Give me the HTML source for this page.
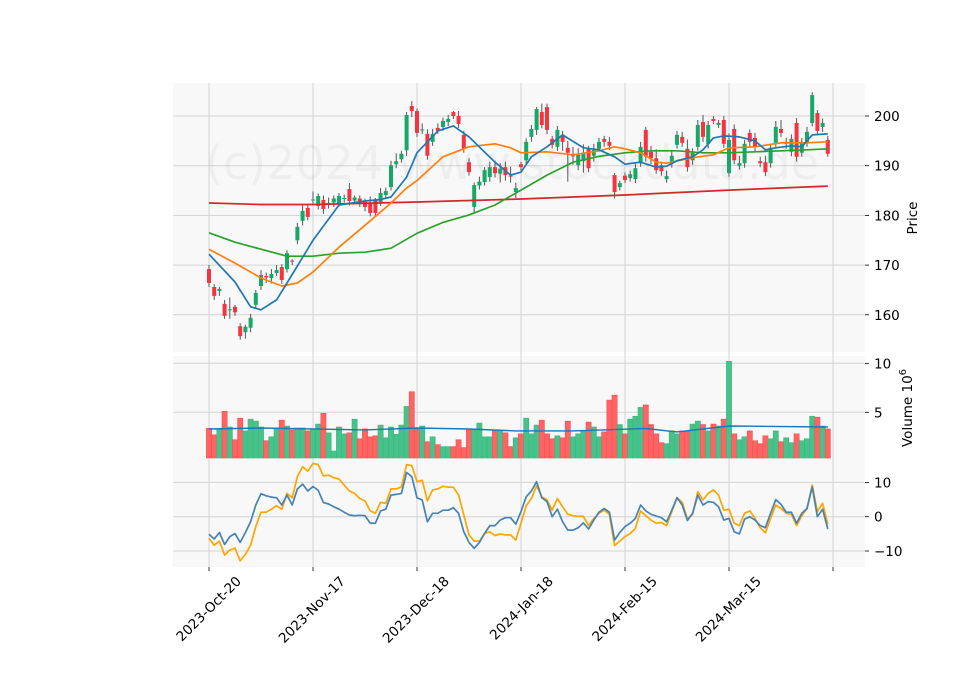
<!DOCTYPE html>
<html><head><meta charset="utf-8">
<style>
html,body{margin:0;padding:0;background:#fff;}
svg{display:block;font-family:"DejaVu Sans","Liberation Sans",sans-serif;}
</style></head>
<body>
<svg id="chart" width="960" height="690" viewBox="0 0 960 690" xmlns="http://www.w3.org/2000/svg">
  <rect x="173" y="83" width="692" height="269" fill="#f8f8f8"/>
  <rect x="173" y="356" width="692" height="102" fill="#f8f8f8"/>
  <rect x="173" y="458" width="692" height="109" fill="#f8f8f8"/>
  <g id="grid"></g>
  <text x="205" y="179" font-size="46" fill="#000" fill-opacity="0.04">(c)2024 www.stockdata.de</text>
  <g id="marks"></g>
  <g id="axes"></g>
  <text transform="translate(917,218) rotate(-90)" text-anchor="middle" font-size="13.5" fill="#000">Price</text>
  <text transform="translate(912,447) rotate(-90)" font-size="13.5" fill="#000">Volume  10<tspan dy="-6" font-size="10">6</tspan></text>
</svg>
<script>
const dates = ["2023-Oct-20","2023-Nov-17","2023-Dec-18","2024-Jan-18","2024-Feb-15","2024-Mar-15"];
const opens = [169.2,165.6,164.8,162.2,160.9,161.6,157.7,156.5,157.4,162.0,165.8,167.8,167.4,168.4,169.6,169.2,170.9,175.0,178.9,181.5,183.0,181.9,183.1,182.3,182.6,182.4,183.3,185.3,183.0,183.4,182.7,182.5,183.0,182.7,184.1,185.7,190.3,191.3,193.1,202.0,201.0,197.1,196.4,194.8,197.6,197.8,198.8,200.8,200.0,196.2,190.7,181.7,186.0,186.7,187.7,189.7,188.4,189.7,188.0,184.7,190.3,191.1,195.8,197.2,200.8,201.8,195.4,193.8,196.2,193.6,191.9,190.1,190.9,193.4,192.0,193.4,195.4,194.8,188.1,185.7,188.0,187.5,187.3,190.5,197.2,192.8,191.5,190.1,187.3,190.5,194.2,195.8,193.4,191.1,193.8,198.8,194.4,199.4,198.2,199.2,188.5,197.4,190.0,190.5,196.6,195.6,190.9,190.7,190.5,194.6,197.4,194.4,192.8,198.6,192.6,194.6,198.6,200.6,197.8,195.2];
const closes = [166.4,163.8,165.2,159.8,161.1,160.5,155.7,157.6,159.4,164.4,168.0,167.5,168.2,169.0,167.0,172.4,170.7,177.7,180.9,179.7,183.2,183.9,181.3,182.5,183.4,183.9,183.5,182.9,183.6,182.8,181.7,180.5,180.5,184.5,184.9,190.1,190.9,192.4,200.2,201.0,196.6,197.3,192.0,196.4,197.0,199.0,199.4,200.0,198.4,193.4,188.7,186.1,186.8,189.1,189.7,188.5,189.4,188.1,187.8,185.5,189.7,194.8,197.4,201.4,198.2,197.2,194.2,197.2,194.8,192.6,192.1,192.2,192.6,189.5,193.2,194.8,194.8,194.0,184.7,186.5,187.1,188.3,189.5,193.8,191.8,191.5,189.1,188.9,187.9,192.0,196.2,194.6,189.7,192.6,198.2,195.8,198.2,199.0,198.6,194.4,195.2,191.1,190.5,194.4,194.8,193.8,190.5,188.7,193.6,197.8,196.6,194.8,195.4,191.8,194.6,196.8,204.2,197.0,198.6,192.4];
const highs = [170.0,166.2,165.6,163.0,163.5,162.0,158.3,158.0,160.2,165.0,169.0,168.5,169.2,170.0,170.2,173.0,171.2,178.5,182.0,182.0,184.8,184.4,184.0,183.6,184.0,184.5,184.2,186.5,184.0,184.0,183.4,183.8,183.5,185.5,185.6,191.0,192.5,193.0,200.8,203.0,201.5,198.5,197.3,197.4,198.5,199.7,200.2,201.0,201.0,197.0,191.5,186.6,187.8,189.7,190.8,191.0,190.5,190.8,189.8,186.6,190.8,195.5,198.2,201.8,202.5,202.5,196.0,198.0,197.0,195.0,193.8,193.5,194.3,194.0,194.4,195.6,196.0,195.8,188.5,187.0,188.6,189.0,190.4,194.8,197.8,194.0,193.3,190.8,189.0,193.0,197.0,196.8,195.3,193.5,199.2,200.2,199.0,200.0,199.2,200.0,196.5,198.3,192.0,195.2,197.3,196.6,191.8,192.0,194.2,199.0,199.2,195.6,196.3,199.6,195.6,197.8,204.8,201.2,199.5,196.0];
const lows = [165.6,163.0,163.8,159.2,159.2,159.8,155.0,155.2,156.5,161.2,165.0,166.4,166.3,167.8,166.2,168.5,170.0,174.2,178.0,179.0,182.4,181.2,180.3,181.4,181.7,181.8,182.6,182.0,182.4,181.7,180.8,179.8,179.8,181.9,183.3,185.0,189.5,190.6,192.0,199.8,195.8,196.4,191.2,194.0,196.4,197.0,198.0,199.4,197.6,192.6,188.0,180.4,185.2,186.0,186.8,187.6,186.6,187.0,186.6,183.5,188.6,190.4,194.8,196.2,197.5,196.3,193.5,193.0,193.0,186.8,190.2,189.1,188.6,188.7,190.8,192.8,193.8,193.2,183.4,185.0,186.5,186.8,186.5,189.8,190.8,190.3,188.4,188.0,186.6,189.6,193.4,193.8,188.8,190.2,193.0,194.8,193.5,198.4,197.6,193.6,187.8,190.3,189.2,189.6,193.8,192.9,189.7,187.9,189.6,193.8,195.8,193.4,191.9,190.8,191.8,193.8,197.9,196.2,196.8,191.8];
const volumes = [3.37,2.7,3.3,5.1,3.5,2.2,4.4,3.1,4.3,4.1,3.5,2.1,2.5,3.4,4.2,3.6,3.2,3.4,3.4,3.1,3.3,3.8,4.9,2.9,1.05,3.5,2.8,2.9,4.3,2.3,3.3,2.5,2.6,3.7,2.4,3.5,2.75,3.7,5.6,7.1,3.4,3.6,2.0,2.5,1.7,1.5,1.5,1.5,2.2,1.4,3.2,3.3,3.9,2.5,2.5,3.1,3.1,2.9,1.5,2.4,2.8,4.4,2.8,3.7,4.2,2.8,2.3,2.6,2.4,4.1,2.5,2.8,3.1,4.0,3.5,2.5,3.0,6.25,6.75,3.75,2.8,4.3,4.6,5.5,5.75,3.75,2.8,1.9,1.8,3.1,2.8,3.1,3.1,3.8,4.1,3.75,3.1,3.8,3.6,4.3,10.2,2.8,2.2,2.5,3.1,2.1,1.8,2.6,2.3,3.1,2.0,2.4,1.9,2.8,2.1,2.3,4.6,4.5,3.6,3.3];
const macd = [-5.1,-6.5,-4.6,-8.1,-5.8,-4.9,-7.5,-4.6,-1.5,3.4,6.7,6.1,5.7,5.5,3.4,6.3,3.4,8.1,9.5,7.5,8.8,7.7,4.1,3.7,2.9,2.2,1.3,0.5,0.3,0.4,0.3,-1.9,-1.9,1.7,2.2,6.3,6.5,6.8,12.9,11.7,5.5,4.9,-1.5,1.0,1.0,1.9,1.9,2.6,1.0,-4.4,-7.5,-9.2,-7.5,-4.9,-2.6,-2.6,-1.0,-0.3,-0.3,-2.2,1.5,5.8,7.5,10.2,5.5,4.4,0.0,2.2,-1.5,-3.9,-3.9,-3.2,-1.8,-3.6,-1.0,1.3,2.4,1.3,-6.8,-4.6,-2.9,-1.9,-0.5,3.4,1.7,0.7,0.2,-0.3,-1.5,1.9,5.5,3.4,-1.1,1.0,6.3,3.4,4.4,4.2,2.9,-1.0,-0.5,-4.4,-5.0,-0.7,0.0,-1.0,-2.6,-3.2,1.0,5.0,3.6,1.3,1.3,-1.9,1.0,2.4,8.7,0.0,2.2,-3.6];
const signal = [-6.3,-8.3,-7.1,-11.2,-9.7,-9.2,-12.9,-11.0,-8.3,-2.9,1.3,1.3,2.2,3.2,2.2,6.8,5.5,11.7,14.6,13.3,15.5,15.2,11.9,12.1,11.4,11.0,9.2,7.5,6.8,5.3,4.6,1.7,1.0,4.2,3.9,8.1,8.1,8.7,15.2,14.9,10.2,10.6,4.6,7.8,8.1,8.9,8.6,8.6,6.3,0.5,-5.3,-7.1,-7.1,-4.9,-4.4,-5.5,-5.0,-5.3,-5.3,-6.8,-1.9,3.2,5.3,9.0,5.8,4.9,1.9,5.3,2.9,0.7,0.3,0.1,0.1,-2.6,-0.5,1.0,1.9,0.7,-8.4,-7.1,-5.8,-4.9,-3.4,1.7,0.3,-1.0,-1.9,-1.7,-2.6,1.5,5.5,4.2,-0.7,0.7,7.3,4.9,6.8,7.8,6.3,1.9,2.2,-1.9,-2.6,1.0,1.7,-0.5,-3.2,-4.7,-0.5,3.4,2.4,1.0,0.7,-2.6,0.3,2.4,9.2,1.5,3.9,-2.2];
const maFastIdx = [0,5,8,10,13,15,20,25,30,33,35,38,40,44,47,50,55,58,60,62,65,68,72,75,78,80,83,86,88,90,93,95,97,99,102,105,107,109,112,114,116,119];
const maFast = [172.2,166.6,161.6,161.0,163.0,166.4,175.0,182.1,182.9,183.2,183.7,187.7,192.6,197.0,198.0,195.8,190.7,188.1,188.7,191.8,193.8,196.2,193.6,193.2,191.8,190.3,190.7,189.7,189.9,191.0,191.8,193.2,195.6,196.0,195.8,195.0,193.2,193.6,194.0,193.8,196.2,196.4];
const maMidIdx = [0,5,10,14,17,20,25,30,35,38,40,45,50,55,58,60,65,70,75,78,80,83,86,88,93,97,100,105,110,115,119];
const maMid = [173.2,170.4,167.4,165.8,166.4,168.6,173.6,178.0,182.5,185.5,187.0,191.8,193.8,194.4,193.6,192.6,192.8,192.2,193.0,193.8,193.4,192.6,190.7,190.5,191.6,192.2,193.6,193.8,194.6,194.6,194.8];
const maSlowIdx = [0,5,10,15,20,25,30,35,40,45,50,55,60,65,70,75,80,85,90,95,100,105,110,115,119];
const maSlow = [176.5,174.6,173.2,171.8,171.8,172.4,172.6,173.4,176.4,178.6,180.1,182.1,185.1,188.1,190.7,191.9,192.6,193.0,193.0,192.6,192.6,192.8,193.0,193.2,193.4];
const maLongIdx = [0,10,20,40,60,80,100,119];
const maLong = [182.5,182.2,182.2,182.7,183.3,184.1,185.1,185.9];
const volMaIdx = [0,10,30,40,50,59,70,84,90,100,119];
const volMa = [3.3,3.4,3.2,3.4,3.3,3.1,3.1,3.35,3.0,3.6,3.5];
const priceTicks = [160,170,180,190,200];
const volTicks = [5,10];
const macdTicks = [-10,0,10];

const NS = "http://www.w3.org/2000/svg";
const X0 = 209, STEP = 5.2;
const xOf = i => X0 + i * STEP;
const yPrice = p => 116 + (200 - p) * 4.97;
const yVol = v => 461.3 - v * 9.8;
const yMacd = v => 516.7 - v * 3.43;
function mk(tag, attrs, parent){
  const e = document.createElementNS(NS, tag);
  for (const k in attrs) e.setAttribute(k, attrs[k]);
  parent.appendChild(e);
  return e;
}
const grid = document.getElementById('grid');
const marks = document.getElementById('marks');
const axes = document.getElementById('axes');
const GC = "#d3d3d3";
for (let k = 0; k <= 6; k++) {
  const x = xOf(k * 20);
  const gl = mk('line', {x1:x, x2:x, y1:83, y2:567, stroke:GC, 'stroke-width':1}, grid);
  
  
  const tk = mk('line', {x1:x, x2:x, y1:567, y2:571, stroke:'#000', 'stroke-width':0.8}, axes);
  
  
  if (k < dates.length) {
    const t = mk('text', {transform:`translate(${x+33},582) rotate(-45)`, 'text-anchor':'end', 'font-size':13.5, fill:'#000'}, axes);
    t.textContent = dates[k];
    
    
  }
}
function yAxis(ticks, yf, name, fmt){
  ticks.forEach(v => {
    const y = yf(v);
    const gl = mk('line', {x1:173, x2:865, y1:y, y2:y, stroke:GC, 'stroke-width':1}, grid);
    
    
    const tk = mk('line', {x1:865, x2:869, y1:y, y2:y, stroke:'#000', 'stroke-width':0.8}, axes);
    
    
    const t = mk('text', {x:874, y:y+5, 'font-size':13.5, fill:'#000'}, axes);
    t.textContent = fmt(v);
    
    
  });
}
yAxis(priceTicks, yPrice, 'price', v => String(v));
yAxis(volTicks, yVol, 'volume', v => String(v));
yAxis(macdTicks, yMacd, 'macd', v => v < 0 ? '\u2212' + Math.abs(v) : String(v));

const UP = "#16a868", DN = "#f8333f", VUP = "#46c28a", VDN = "#ff6464";
for (let i = 0; i < closes.length; i++) {
  const x = xOf(i), up = closes[i] >= opens[i];
  const w = mk('line', {x1:x, x2:x, y1:yPrice(highs[i]), y2:yPrice(lows[i]), stroke:'#555', 'stroke-width':1}, marks);
  
  
  const yt = yPrice(Math.max(opens[i], closes[i])), yb = yPrice(Math.min(opens[i], closes[i]));
  const b = mk('rect', {x:x-2, y:yt, width:4, height:Math.max(1, yb-yt), fill: up?UP:DN}, marks);
  
  
  const vt = yVol(volumes[i]);
  const vb = mk('rect', {x:x-2.6, y:vt, width:5.2, height:Math.max(0, 458 - vt), fill: up?VUP:VDN, stroke: up?"#38b97c":"#f65050", 'stroke-width':0.6}, marks);
  
  
}
function line(idx, vals, yf, color, name, width){
  const d = idx.map((ix, k) => (k ? 'L' : 'M') + xOf(ix).toFixed(1) + ',' + yf(vals[k]).toFixed(1)).join(' ');
  const p = mk('path', {d, fill:'none', stroke:color, 'stroke-width':width||1.7, 'stroke-linejoin':'round'}, marks);
  
  
}
line(maLongIdx, maLong, yPrice, '#d62728', 'ma-long-line');
line(maSlowIdx, maSlow, yPrice, '#2ca02c', 'ma-slow-line');
line(maMidIdx, maMid, yPrice, '#ff7f0e', 'ma-mid-line');
line(maFastIdx, maFast, yPrice, '#1f77b4', 'ma-fast-line');
line(volMaIdx, volMa, yVol, '#1f77b4', 'volume-ma-line', 1.4);
const all = closes.map((_, i) => i);
line(all, signal, yMacd, '#ffa500', 'macd-signal-line');
line(all, macd, yMacd, '#4682b4', 'macd-line');
</script>
</body></html>
